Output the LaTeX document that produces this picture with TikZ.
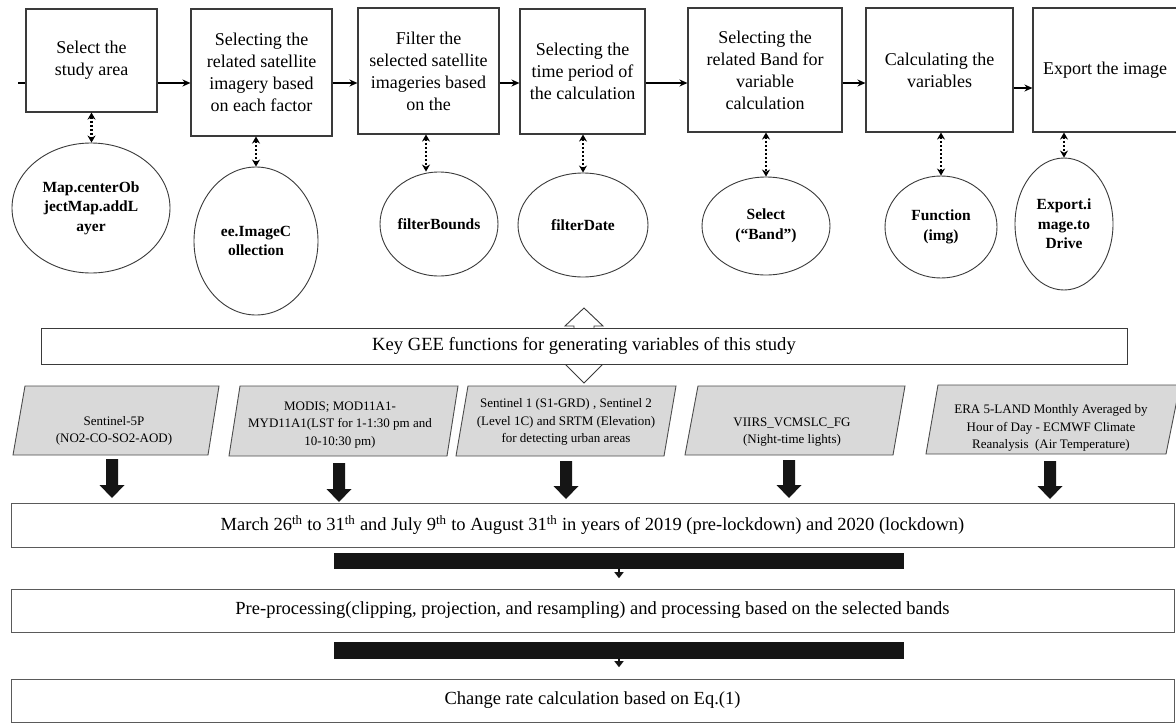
\documentclass[tikz,border=0pt]{standalone}
\usepackage{fontspec}
\setmainfont{Liberation Serif}
\usetikzlibrary{shapes.geometric,arrows.meta,calc}
\definecolor{boxc}{HTML}{3A3A3A}
\definecolor{parafill}{HTML}{D9D9D9}
\definecolor{paraline}{HTML}{4D4D4D}
\definecolor{wideline}{HTML}{5A5A5A}
\definecolor{barc}{HTML}{151515}
\newcommand{\bigdownarrow}[3]{\fill[barc] (#1-6,#2) -- (#1+6,#2) -- (#1+6,#3-13) -- (#1+12.5,#3-13) -- (#1,#3) -- (#1-12.5,#3-13) -- (#1-6,#3-13) -- cycle;}
\begin{document}
\begin{tikzpicture}[x=1pt,y=-1pt,
 box/.style={draw=boxc, line width=1.1pt, align=center, inner sep=0pt, font=\fontsize{18}{22}\selectfont},
 ell/.style={draw=boxc, line width=0.9pt, ellipse, inner sep=0pt, align=center, font=\fontsize{15.5}{19.5}\selectfont\bfseries},
 flow/.style={line width=1.8pt, -{Stealth[length=8pt,width=7pt]}},
 dotlink/.style={line width=2.2pt, dash pattern=on 2.5pt off 1.5pt, {Stealth[length=7pt,width=8pt]}-{Stealth[length=7pt,width=8pt]}},
 para/.style={draw=paraline, fill=parafill, line width=0.9pt},
 ptext/.style={align=center, inner sep=0pt, font=\fontsize{13}{17.5}\selectfont},
 wide/.style={draw=wideline, line width=1pt, fill=white, inner sep=0pt, minimum width=1163pt, font=\fontsize{18.5}{21}\selectfont},
 blackbar/.style={fill=barc, inner sep=0pt, minimum width=570pt},
 smallarrow/.style={line width=2pt, draw=barc, -{Triangle[length=6pt,width=9pt]}}
]
\fill[white] (0,0) rectangle (1176,723);
\useasboundingbox (0,0) rectangle (1176,723);

% top process boxes
\node[box, minimum width=131pt, minimum height=103pt] (B1) at (91.5,60.5) {Select the\\study area};
\node[box, minimum width=141pt, minimum height=127pt] (B2) at (261.5,72.5) {Selecting the\\related satellite\\imagery based\\on each factor};
\node[box, minimum width=141pt, minimum height=126pt] (B3) at (428.5,71) {Filter the\\selected satellite\\imageries based\\on the};
\node[box, minimum width=125pt, minimum height=125pt] (B4) at (582.5,71.5) {Selecting the\\time period of\\the calculation};
\node[box, minimum width=154pt, minimum height=124pt] (B5) at (765,70) {Selecting the\\related Band for\\variable\\calculation};
\node[box, minimum width=147pt, minimum height=124pt] (B6) at (939.5,70) {Calculating the\\variables};
\node[box, minimum width=144pt, minimum height=124pt] (B7) at (1105,70) {Export the image};

% horizontal flow
\coordinate (start) at (18,83);
\coordinate (fy) at (0,83);
\coordinate (fy2) at (0,88);
\draw[line width=1.8pt] (start) -- (start -| B1.west);
\draw[flow] (B1.east |- fy) -- (B2.west |- fy);
\draw[flow] (B2.east |- fy) -- (B3.west |- fy);
\draw[flow] (B3.east |- fy) -- (B4.west |- fy);
\draw[flow] (B4.east |- fy) -- (B5.west |- fy);
\draw[flow] (B5.east |- fy) -- (B6.west |- fy);
\draw[flow] (B6.east |- fy2) -- (B7.west |- fy2);

% GEE function ellipses
\node[ell, minimum width=158pt, minimum height=130pt] (E1) at (91,208) {Map.centerOb\\jectMap.addL\\ayer};
\node[ell, minimum width=124pt, minimum height=148pt] (E2) at (256,241) {ee.ImageC\\ollection};
\node[ell, minimum width=118pt, minimum height=104pt] (E3) at (439,224) {filterBounds};
\node[ell, minimum width=130pt, minimum height=104pt] (E4) at (583,225) {filterDate};
\node[ell, minimum width=128pt, minimum height=98pt] (E5) at (766,226) {Select\\(“Band”)};
\node[ell, minimum width=112pt, minimum height=102pt] (E6) at (941,227) {Function\\(img)};
\node[ell, minimum width=98pt, minimum height=132pt] (E7) at (1064,224) {Export.i\\mage.to\\Drive};

% dotted two-way links
\coordinate (a3) at (426,0);
\draw[dotlink] (B1.south) -- (B1.south |- E1.north);
\draw[dotlink] (E2.north |- B2.south) -- (E2.north);
\draw[dotlink] (a3 |- B3.south) -- (a3 |- E3.north);
\draw[dotlink] (E4.north |- B4.south) -- (E4.north);
\draw[dotlink] (E5.north |- B5.south) -- (E5.north);
\draw[dotlink] (E6.north |- B6.south) -- (E6.north);
\draw[dotlink] (E7.north |- B7.south) -- (E7.north);

% hollow double arrow behind key bar
\draw[draw=boxc, line width=0.9pt, fill=white] (584,308) -- (565,326) -- (574,326) -- (574,364) -- (565,364) -- (584,383) -- (603,364) -- (594,364) -- (594,326) -- (603,326) -- cycle;
\node[draw=boxc, line width=0.9pt, fill=white, inner sep=0pt, minimum width=1086pt, minimum height=36pt, font=\fontsize{18.6}{21}\selectfont] (K) at (584,346) {Key GEE functions for generating variables of this study};

% data sources (parallelograms)
\draw[para] (25,386) -- (219,386) -- (208,455) -- (13,455) -- cycle;
\node[ptext] (P1) at (114,431) {Sentinel-5P\\(NO2-CO-SO2-AOD)};
\draw[para] (240,386) -- (458,386) -- (447,456) -- (229,456) -- cycle;
\node[ptext] (P2) at (340,425) {MODIS; MOD11A1-\\MYD11A1(LST for 1-1:30 pm and\\10-10:30 pm)};
\draw[para] (468,386) -- (676,386) -- (664,456) -- (456,456) -- cycle;
\node[ptext] (P3) at (566,422) {Sentinel 1 (S1-GRD) , Sentinel 2\\(Level 1C) and SRTM (Elevation)\\for detecting urban areas};
\draw[para] (698,386) -- (905,386) -- (893,455) -- (685,455) -- cycle;
\node[ptext] (P4) at (792,432) {VIIRS\_VCMSLC\_FG\\(Night-time lights)};
\draw[para] (938,385) -- (1180,385) -- (1166,454) -- (926,454) -- cycle;
\node[ptext] (P5) at (1051,428) {ERA 5-LAND Monthly Averaged by\\Hour of Day - ECMWF Climate\\Reanalysis~ (Air Temperature)};

% big arrows into period box
\bigdownarrow{112}{459}{498}
\bigdownarrow{339}{463}{502}
\bigdownarrow{566}{461}{499}
\bigdownarrow{789}{460}{498}
\bigdownarrow{1050}{461}{499}

% lower chain
\node[wide, minimum height=44pt] (M) at (592.5,525) {March 26\textsuperscript{th} to 31\textsuperscript{th} and July 9\textsuperscript{th} to August 31\textsuperscript{th} in years of 2019 (pre-lockdown) and 2020 (lockdown)};
\node[blackbar, minimum height=16pt] (bar1) at (619,561) {};
\draw[smallarrow] (bar1.south) -- ++(0,9);
\node[wide, minimum height=43pt] (Pp) at (592.5,610.5) {Pre-processing(clipping, projection, and resampling) and processing based on the selected bands};
\node[blackbar, minimum height=17pt] (bar2) at (619,650.5) {};
\draw[smallarrow] (bar2.south) -- ++(0,8);
\node[wide, minimum height=43pt] (C) at (592.5,700.5) {Change rate calculation based on Eq.(1)};
\end{tikzpicture}
\end{document}
